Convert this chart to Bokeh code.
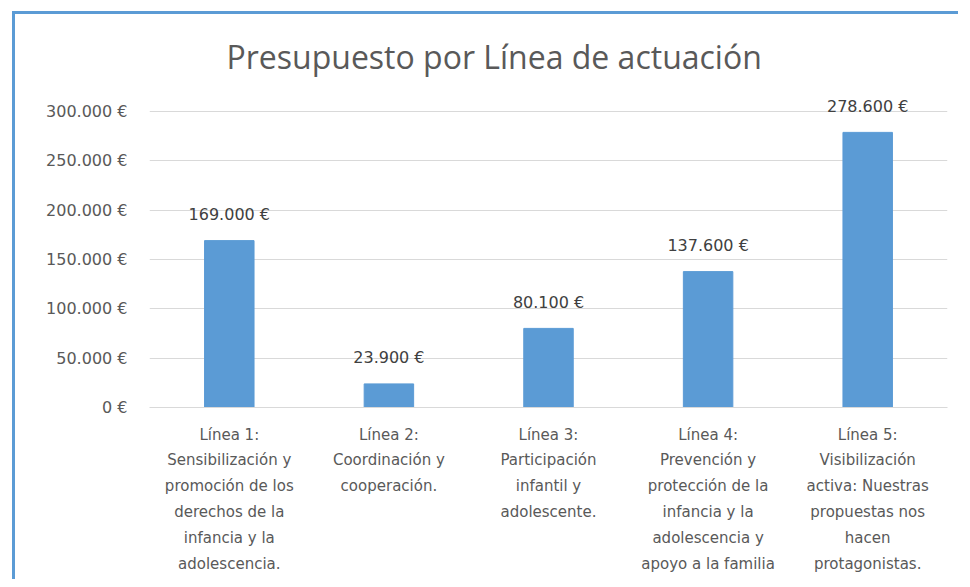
from bokeh.plotting import figure
from bokeh.models import (ColumnDataSource, FactorRange, Range1d, FixedTicker,
                          LabelSet)
from bokeh.core.properties import value
from bokeh.embed import file_html
from bokeh.resources import INLINE

# ---- data ----
categories = [
    "Línea 1:\nSensibilización y\npromoción de los\nderechos de la\ninfancia y la\nadolescencia.",
    "Línea 2:\nCoordinación y\ncooperación.",
    "Línea 3:\nParticipación\ninfantil y\nadolescente.",
    "Línea 4:\nPrevención y\nprotección de la\ninfancia y la\nadolescencia y\napoyo a la familia",
    "Línea 5:\nVisibilización\nactiva: Nuestras\npropuestas nos\nhacen\nprotagonistas.",
]
values = [169000, 23900, 80100, 137600, 278600]
y_ticks = [0, 50000, 100000, 150000, 200000, 250000, 300000]
y_tick_labels = ["0 €", "50.000 €", "100.000 €", "150.000 €", "200.000 €", "250.000 €", "300.000 €"]
title_text = "Presupuesto por Línea de actuación"


def euro(v):
    return f"{v:,}".replace(",", ".") + " €"


source = ColumnDataSource(dict(cat=categories, val=values,
                               lab=[euro(v) for v in values]))

p = figure(width=946, height=568, output_backend="svg", toolbar_location=None,
           x_range=FactorRange(*categories), y_range=Range1d(0, 320000),
           min_border_left=134, min_border_right=14, min_border_top=77,
           min_border_bottom=175, title=title_text)
p.styles = {"border-left": "3px solid #5B9BD5", "border-top": "3px solid #5B9BD5",
            "margin-left": "12px", "margin-top": "11px"}
p.outline_line_color = None
p.background_fill_color = "white"
p.border_fill_color = "white"

p.title.align = "left"
p.title.offset = 77
p.title.standoff = 27
p.title.text_font = "Open Sans"
p.title.text_font_size = "32px"
p.title.text_font_style = "normal"
p.title.text_color = "#595959"

p.vbar(x="cat", top="val", width=0.31, source=source, color="#5B9BD5")

# grid
p.xgrid.grid_line_color = None
p.ygrid.ticker = FixedTicker(ticks=y_ticks)
p.ygrid.grid_line_color = "#D9D9D9"
p.ygrid.grid_line_width = 1

# y axis
p.yaxis.ticker = FixedTicker(ticks=y_ticks)
p.yaxis.major_label_overrides = {t: l for t, l in zip(y_ticks, y_tick_labels)}
p.yaxis.axis_line_color = None
p.yaxis.major_tick_line_color = None
p.yaxis.minor_tick_line_color = None
p.yaxis.major_label_standoff = 16
p.yaxis.major_label_text_font = "DejaVu Sans"
p.yaxis.major_label_text_font_size = "16px"
p.yaxis.major_label_text_color = "#595959"

# x axis
p.xaxis.axis_line_color = "#D9D9D9"
p.xaxis.major_tick_line_color = None
p.xaxis.minor_tick_line_color = None
p.xaxis.major_label_standoff = 12
p.xaxis.major_label_text_font = "DejaVu Sans"
p.xaxis.major_label_text_font_size = "15px"
p.xaxis.major_label_text_color = "#595959"
p.xaxis.major_label_text_line_height = 1.44

labels = LabelSet(x="cat", y="val", text="lab", source=source, y_offset=26,
                  text_align="center", text_baseline="middle",
                  text_font=value("DejaVu Sans"), text_font_size="16px",
                  text_color="#404040")
p.add_layout(labels)

open("out.html", "w").write(file_html(p, INLINE))
